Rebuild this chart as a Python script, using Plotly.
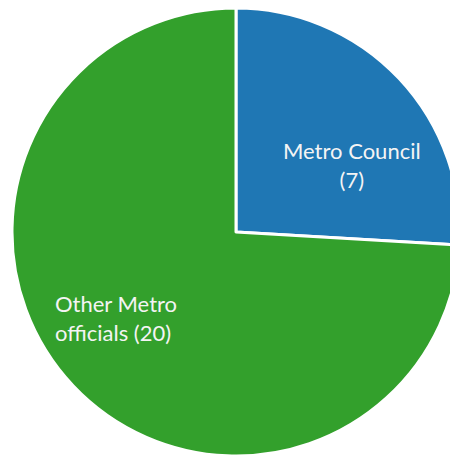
import plotly.graph_objects as go

labels = ["Metro Council", "Other Metro officials"]
values = [7, 20]
text_labels = ["Metro Council<br>(7)", "Other Metro<br>officials (20)"]
colors = ["#1f77b4", "#33a02c"]

fig = go.Figure(go.Pie(
    labels=labels,
    values=values,
    textinfo="none",
    sort=False,
    direction="clockwise",
    rotation=0,
    marker=dict(colors=colors, line=dict(color="white", width=3)),
    showlegend=False,
    hoverinfo="label+value",
))

label_pos = [(0.758, 0.65), (0.232, 0.308)]
label_align = ["center", "left"]
for txt, (ax, ay), al in zip(text_labels, label_pos, label_align):
    fig.add_annotation(
        x=ax, y=ay, xref="paper", yref="paper",
        xanchor="center", yanchor="middle",
        text=txt, showarrow=False, align=al,
        font=dict(family="Lato", size=22, color="#f4f4f4"),
    )

fig.update_layout(
    width=460, height=456,
    margin=dict(l=12, r=0, t=8, b=0),
    paper_bgcolor="white",
    plot_bgcolor="white",
)

fig.write_html(
    "out.html",
    config={"displayModeBar": False},
    post_script="document.body.style.margin='0';document.body.style.overflow='hidden';document.documentElement.style.overflow='hidden';",
)
